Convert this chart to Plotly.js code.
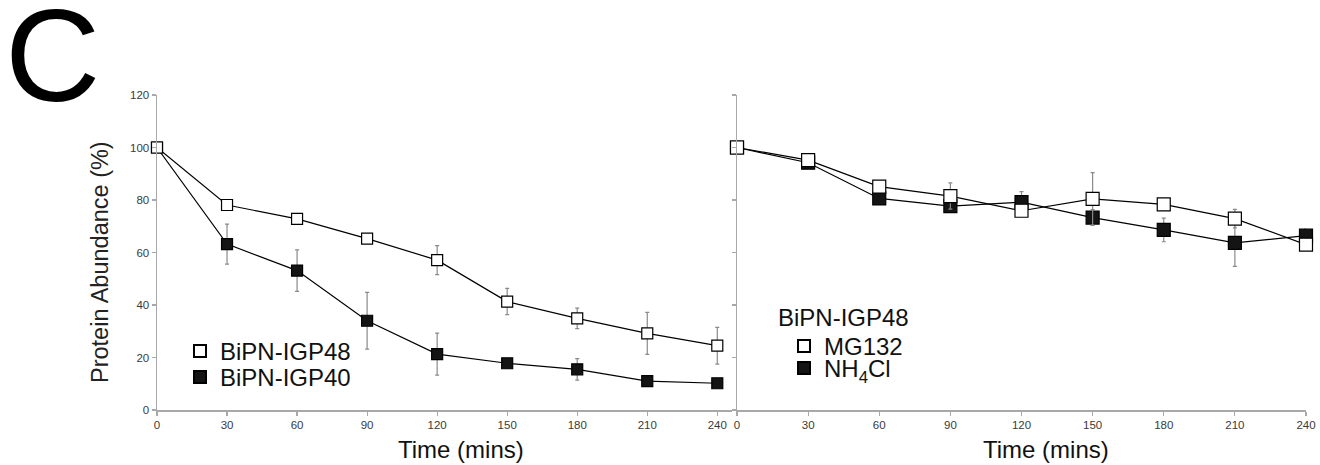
<!DOCTYPE html>
<html>
<head>
<meta charset="utf-8">
<script src="https://cdn.plot.ly/plotly-3.0.1.min.js"></script>
<style>html,body{margin:0;padding:0;background:#fff;}#chart{width:1320px;height:465px;}</style>
</head>
<body>
<div id="chart"></div>
<script>
// ---- data ----
const times = [0, 30, 60, 90, 120, 150, 180, 210, 240];
const yTicks = [0, 20, 40, 60, 80, 100, 120];

// Left panel
const igp48 = [100, 78.1, 72.8, 65.3, 57.1, 41.3, 34.9, 29.2, 24.5];
const igp48Err = [0, 1.5, 1.5, 1.5, 5.5, 5.0, 3.9, 8.0, 7.0];
const igp40 = [100, 63.2, 53.1, 34.0, 21.3, 17.8, 15.5, 11.0, 10.2];
const igp40Err = [0, 7.6, 7.9, 10.8, 8.0, 1.5, 4.1, 1.5, 1.5];

// Right panel (BiPN-IGP48)
const mg132 = [100, 95.2, 85.1, 81.5, 75.9, 80.4, 78.3, 72.9, 63.0];
const mg132Err = [0, 1.0, 1.0, 5.0, 1.0, 10.0, 1.0, 3.5, 1.0];
const nh4cl = [100, 94.2, 80.6, 77.7, 79.2, 73.3, 68.6, 63.7, 66.4];
const nh4clErr = [0, 1.0, 1.0, 1.0, 4.0, 3.0, 4.5, 9.0, 2.5];

const rightGroup = 'BiPN-IGP48';
const names = {igp48: 'BiPN-IGP48', igp40: 'BiPN-IGP40', mg132: 'MG132', nh4cl: 'NH<sub>4</sub>Cl'};

// ---- styling ----
const FONT = 'Arial, "Liberation Sans", sans-serif';
const W = 1320, H = 465;
const px = v => v / W;
const py = v => 1 - v / H;
const axisGray = '#a8a8a8';
const LFS = 24;

function lineTrace(x, y, xa, ya) {
  return {type: 'scatter', mode: 'lines', x: x, y: y, xaxis: xa, yaxis: ya,
          showlegend: false, hoverinfo: 'skip', line: {color: '#000', width: 1.2}, cliponaxis: false};
}
function markTrace(x, y, err, name, filled, xa, ya, legend, size) {
  return {
    type: 'scatter', mode: 'markers', x: x, y: y, name: name,
    xaxis: xa, yaxis: ya, legend: legend, showlegend: true,
    marker: {symbol: 'square', size: size, color: filled ? '#141414' : '#ffffff', line: {color: '#000', width: 1.2}},
    error_y: {type: 'data', array: err, visible: true, color: '#8a8a8a', thickness: 1.2, width: 2},
    cliponaxis: false
  };
}

const data = [
  lineTrace(times, igp40, 'x', 'y'),
  lineTrace(times, igp48, 'x', 'y'),
  lineTrace(times, nh4cl, 'x2', 'y2'),
  lineTrace(times, mg132, 'x2', 'y2'),
  markTrace(times, igp40, igp40Err, names.igp40, true, 'x', 'y', 'legend2', 11),
  markTrace(times, igp48, igp48Err, names.igp48, false, 'x', 'y', 'legend', 11),
  markTrace(times, nh4cl, nh4clErr, names.nh4cl, true, 'x2', 'y2', 'legend4', 13),
  markTrace(times, mg132, mg132Err, names.mg132, false, 'x2', 'y2', 'legend3', 13)
];

const axisCommon = {
  showline: true, linecolor: axisGray, linewidth: 1.5,
  ticks: 'outside', ticklen: 4, tickcolor: axisGray, tickwidth: 1.2,
  showgrid: false, zeroline: false,
  tickfont: {family: FONT, size: 11.5, color: '#3a3a3a'}
};

const yDom = [py(410), py(95)];

function leg(xPix, topPix) {
  return {
    x: px(xPix), y: py(topPix), xanchor: 'left', yanchor: 'top',
    font: {family: FONT, size: LFS, color: '#111'},
    bgcolor: 'rgba(0,0,0,0)', itemsizing: 'constant', itemwidth: 30
  };
}

const layout = {
  width: W, height: H, autosize: false,
  margin: {l: 0, r: 0, t: 0, b: 0},
  paper_bgcolor: '#fff', plot_bgcolor: 'rgba(0,0,0,0)',
  showlegend: true,
  xaxis: Object.assign({}, axisCommon, {domain: [px(157), px(732)], range: [0, 246.3], tickvals: times, anchor: 'y'}),
  yaxis: Object.assign({}, axisCommon, {domain: yDom, range: [0, 120], tickvals: yTicks, anchor: 'x'}),
  xaxis2: Object.assign({}, axisCommon, {domain: [px(737), px(1306)], range: [0, 240], tickvals: times, anchor: 'y2'}),
  yaxis2: Object.assign({}, axisCommon, {domain: yDom, range: [0, 120], tickvals: yTicks, showticklabels: false, anchor: 'x2'}),
  legend: leg(180, 329),
  legend2: leg(180, 355),
  legend3: leg(784, 324),
  legend4: leg(784, 346),
  annotations: [
    {text: 'C', xref: 'paper', yref: 'paper', x: px(3), y: py(-20), xanchor: 'left', yanchor: 'top',
     showarrow: false, font: {family: FONT, size: 132, color: '#000'}},
    {text: 'Protein Abundance (%)', xref: 'paper', yref: 'paper', x: px(100), y: py(262), xanchor: 'center', yanchor: 'middle',
     textangle: -90, showarrow: false, font: {family: FONT, size: 23.5, color: '#222'}},
    {text: 'Time (mins)', xref: 'paper', yref: 'paper', x: px(461), y: py(449), xanchor: 'center', yanchor: 'middle',
     showarrow: false, font: {family: FONT, size: 24, color: '#111'}},
    {text: 'Time (mins)', xref: 'paper', yref: 'paper', x: px(1046), y: py(449), xanchor: 'center', yanchor: 'middle',
     showarrow: false, font: {family: FONT, size: 24, color: '#111'}},
    {text: rightGroup, xref: 'paper', yref: 'paper', x: px(776), y: py(317), xanchor: 'left', yanchor: 'middle',
     showarrow: false, font: {family: FONT, size: LFS, color: '#111'}}
  ]
};

Plotly.newPlot('chart', data, layout, {staticPlot: true, displayModeBar: false});
</script>
</body>
</html>
